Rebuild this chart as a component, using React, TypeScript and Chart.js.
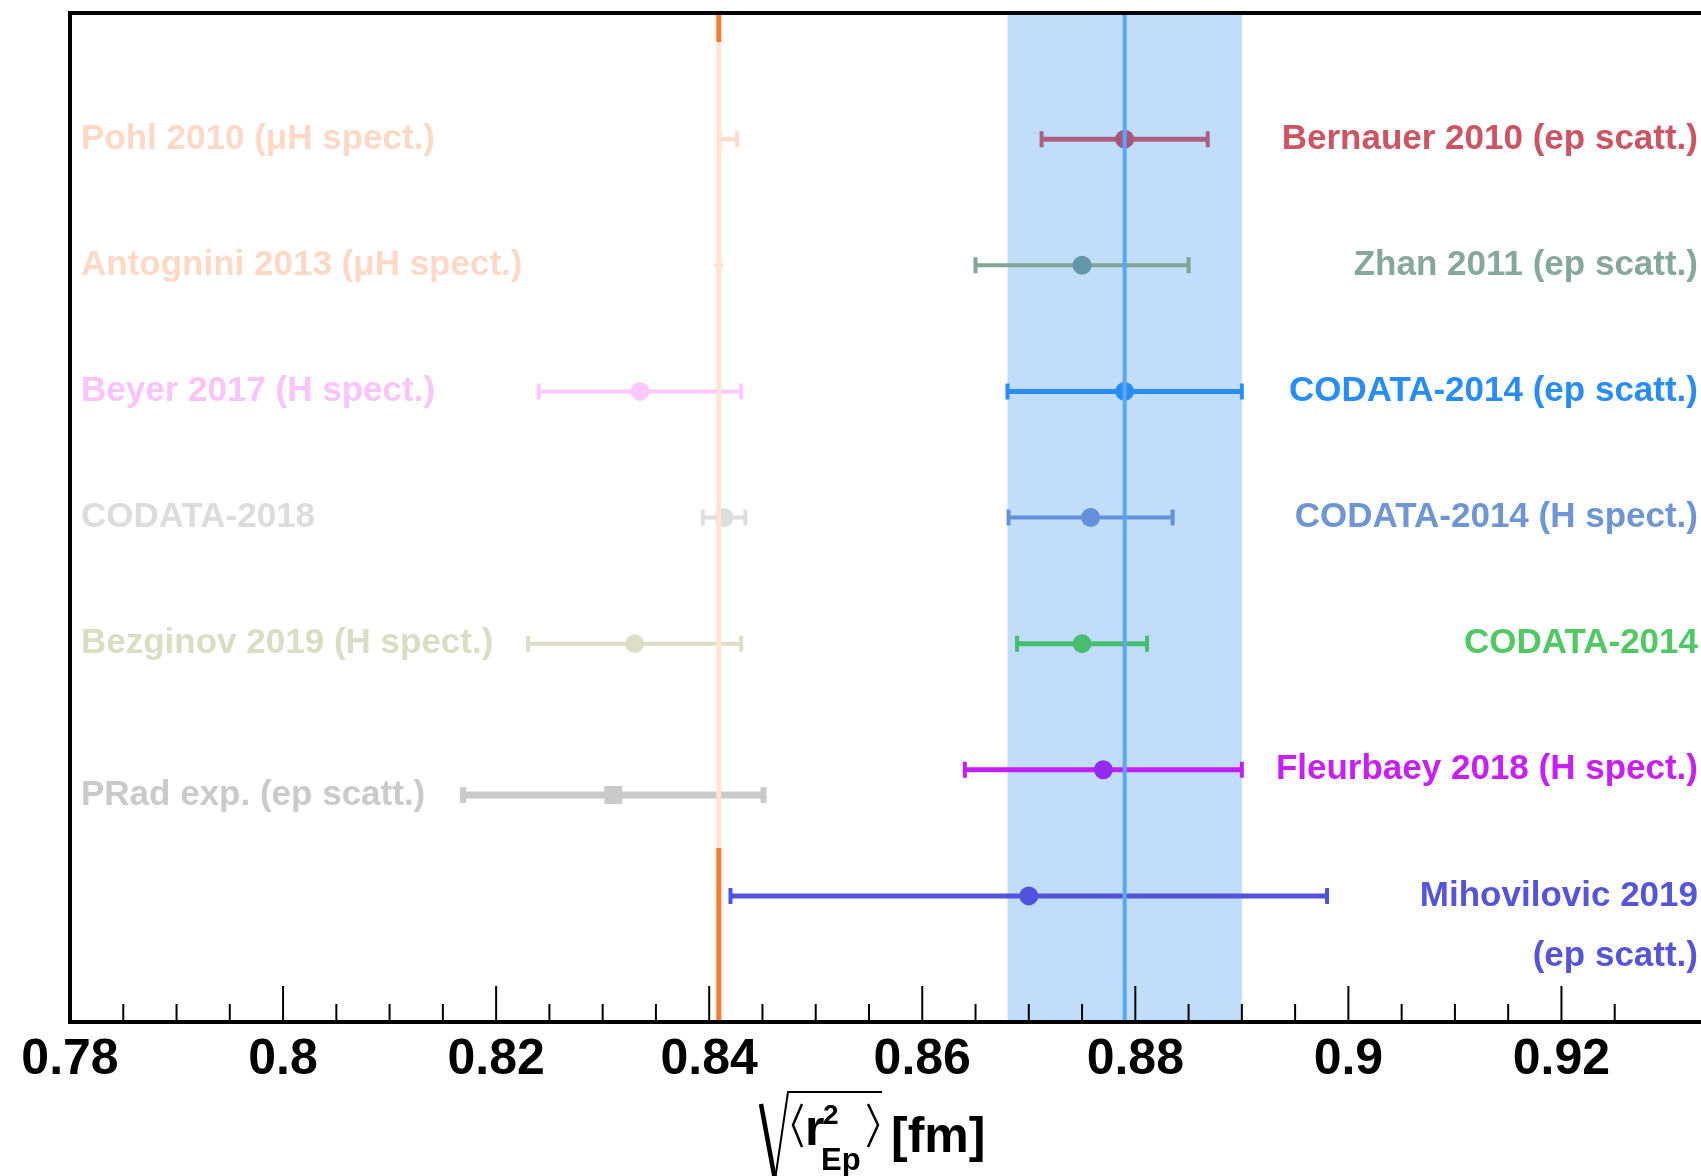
import React, { useEffect, useRef } from "react";
import { Chart, registerables } from "chart.js";

Chart.register(...registerables);

// ---------------- axis ----------------
const X_MIN = 0.78;
const X_MAX = 0.9331;
const Y_MIN = 0;
const Y_MAX = 8;
const MAJOR_STEP = 0.02;
const MINOR_STEP = 0.005;

// ---------------- measurements ----------------
const measNames = [
  "Pohl 2010",
  "Antognini 2013",
  "Beyer 2017",
  "CODATA-2018",
  "Bezginov 2019",
  "PRad",
  "Bernauer 2010",
  "Zhan 2011",
  "CODATA-2014 (ep scatt.)",
  "CODATA-2014 (H spect.)",
  "CODATA-2014",
  "Fleurbaey 2018",
  "Mihovilovic 2019",
];
const measValues = [0.8418, 0.8409, 0.8335, 0.8414, 0.833, 0.831, 0.879, 0.875, 0.879, 0.8758, 0.875, 0.877, 0.87];
const measErrors = [0.0008, 0.0004, 0.0095, 0.002, 0.01, 0.0141, 0.0078, 0.01, 0.011, 0.0077, 0.0061, 0.013, 0.028];
const measRows = [7, 6, 5, 4, 3, 1.8, 7, 6, 5, 4, 3, 2, 1];
const measMarkers = ["circle", "circle", "circle", "circle", "circle", "rect", "circle", "circle", "circle", "circle", "circle", "circle", "circle"];
const measMarkerSizes = [3, 3.5, 9.5, 9.5, 9.5, 12.7, 9.5, 9.5, 9.5, 9.5, 9.5, 9.5, 9.5];
const capHalfHeights = [8, 0, 8, 8, 8, 8, 8, 8, 8, 8, 8, 8, 8];
const barColors = [
  "#FEDCCB", "#FEDCCB", "#FAC8FA", "#DEDEDE", "#DEDEC8", "#CACACA",
  "#AE5F80", "#82A596", "#2B8CF7", "#6591DC", "#46BE6E", "#C21EFA", "#5252DC",
];
const markerColors = [
  "#FEDCCB", "#FEDCCB", "#FAC8FA", "#DEDEDE", "#DEDEC8", "#CACACA",
  "#A8577C", "#6496AA", "#2B8CF7", "#6591DC", "#46BE6E", "#962AF5", "#5252DC",
];
const barWidths = [4, 4, 4, 4, 4, 7, 5, 4, 5, 4, 5, 5, 5];

// ---------------- labels ----------------
const labelTexts = [
  "Pohl 2010 (\u03BCH spect.)",
  "Antognini 2013 (\u03BCH spect.)",
  "Beyer 2017 (H spect.)",
  "CODATA-2018",
  "Bezginov 2019 (H spect.)",
  "PRad exp. (ep scatt.)",
  "Bernauer 2010 (ep scatt.)",
  "Zhan 2011 (ep scatt.)",
  "CODATA-2014 (ep scatt.)",
  "CODATA-2014 (H spect.)",
  "CODATA-2014",
  "Fleurbaey 2018 (H spect.)",
  "Mihovilovic 2019",
  "(ep scatt.)",
];
const labelRows = [7, 6, 5, 4, 3, 1.8, 7, 6, 5, 4, 3, 2, 1, 0.52];
const labelSides = ["left", "left", "left", "left", "left", "left", "right", "right", "right", "right", "right", "right", "right", "right"];
const labelColors = [
  "#FED8C6", "#FED8C6", "#F9C4F9", "#DCDCDC", "#DCDCC4", "#CACACA",
  "#CD5462", "#86A89A", "#288CFA", "#6E96D7", "#50C864", "#C81EFA", "#5555DC", "#5555DC",
];

// ---------------- reference lines ----------------
const bandRange = [0.868, 0.89];
const bandCenter = [0.879];
const muonLineX = [0.8409];
const muonLineBreaks = [8, 7.77, 1.38, 0];
const muonLineColors = ["#F77A2E", "#FFE3D3", "#F77A2E"];

const FONT = "'Liberation Sans', Arial, Helvetica, sans-serif";

function isMajor(v: number) {
  const q = v / MAJOR_STEP;
  return Math.abs(q - Math.round(q)) < 1e-6;
}

const underPlugin = {
  id: "under",
  beforeDatasetsDraw(chart: any) {
    const { ctx, chartArea } = chart;
    const xs = chart.scales.x;
    const ys = chart.scales.y;
    ctx.save();
    ctx.beginPath();
    ctx.rect(chartArea.left, chartArea.top, chartArea.right - chartArea.left, chartArea.bottom - chartArea.top);
    ctx.clip();
    // band
    const bx0 = xs.getPixelForValue(bandRange[0]);
    const bx1 = xs.getPixelForValue(bandRange[1]);
    ctx.fillStyle = "#C0DEFC";
    ctx.fillRect(bx0, chartArea.top, bx1 - bx0, chartArea.bottom - chartArea.top);
    // error bars
    measValues.forEach((v, i) => {
      const y = ys.getPixelForValue(measRows[i]);
      const x0 = xs.getPixelForValue(v - measErrors[i]);
      const x1 = xs.getPixelForValue(v + measErrors[i]);
      ctx.strokeStyle = barColors[i];
      ctx.lineWidth = barWidths[i];
      ctx.lineCap = "butt";
      ctx.beginPath();
      ctx.moveTo(x0, y);
      ctx.lineTo(x1, y);
      ctx.stroke();
      const capH = capHalfHeights[i];
      if (capH > 0) {
        ctx.lineWidth = barWidths[i] >= 6 ? 6 : 4;
        ctx.beginPath();
        ctx.moveTo(x0, y - capH);
        ctx.lineTo(x0, y + capH);
        ctx.moveTo(x1, y - capH);
        ctx.lineTo(x1, y + capH);
        ctx.stroke();
      }
    });
    ctx.restore();
  },
};

function drawAxisTitle(ctx: CanvasRenderingContext2D) {
  ctx.save();
  ctx.strokeStyle = "#000";
  ctx.fillStyle = "#000";
  ctx.lineCap = "butt";
  ctx.lineJoin = "miter";
  // radical sign
  ctx.lineWidth = 4.5;
  ctx.beginPath();
  ctx.moveTo(761, 1104);
  ctx.lineTo(775, 1180);
  ctx.stroke();
  ctx.lineWidth = 2;
  ctx.beginPath();
  ctx.moveTo(775, 1180);
  ctx.lineTo(788, 1092);
  ctx.lineTo(882, 1092);
  ctx.stroke();
  // angle brackets
  ctx.lineWidth = 2.5;
  ctx.beginPath();
  ctx.moveTo(802, 1104);
  ctx.lineTo(793, 1125);
  ctx.lineTo(802, 1147);
  ctx.stroke();
  ctx.beginPath();
  ctx.moveTo(868, 1104);
  ctx.lineTo(878, 1125);
  ctx.lineTo(868, 1147);
  ctx.stroke();
  ctx.textAlign = "left";
  ctx.textBaseline = "alphabetic";
  ctx.font = `bold 50px ${FONT}`;
  ctx.fillText("r", 805, 1145);
  ctx.font = `bold 28px ${FONT}`;
  ctx.fillText("2", 823, 1124);
  ctx.font = `bold 31px ${FONT}`;
  ctx.fillText("Ep", 821, 1170);
  ctx.font = `bold 50px ${FONT}`;
  ctx.fillText("[fm]", 891, 1152);
  ctx.restore();
}

const overPlugin = {
  id: "over",
  afterDatasetsDraw(chart: any) {
    const { ctx, chartArea } = chart;
    const xs = chart.scales.x;
    const ys = chart.scales.y;
    ctx.save();
    // blue centre line
    const cx = xs.getPixelForValue(bandCenter[0]);
    ctx.strokeStyle = "#5AA6F6";
    ctx.lineWidth = 4;
    ctx.beginPath();
    ctx.moveTo(cx, chartArea.top);
    ctx.lineTo(cx, chartArea.bottom);
    ctx.stroke();
    // muonic line
    const mx = xs.getPixelForValue(muonLineX[0]);
    ctx.lineWidth = 5;
    for (let i = 0; i < muonLineColors.length; i++) {
      ctx.strokeStyle = muonLineColors[i];
      ctx.beginPath();
      ctx.moveTo(mx, ys.getPixelForValue(muonLineBreaks[i]));
      ctx.lineTo(mx, ys.getPixelForValue(muonLineBreaks[i + 1]));
      ctx.stroke();
    }
    ctx.restore();
  },
  afterDraw(chart: any) {
    const { ctx, chartArea } = chart;
    const xs = chart.scales.x;
    const ys = chart.scales.y;
    ctx.save();
    // tick marks (inside)
    ctx.strokeStyle = "#000";
    ctx.lineWidth = 2;
    xs.ticks.forEach((t: any) => {
      const q = t.value / MINOR_STEP;
      if (Math.abs(q - Math.round(q)) > 1e-6) return;
      const x = xs.getPixelForValue(t.value);
      const len = isMajor(t.value) ? 36 : 18;
      ctx.beginPath();
      ctx.moveTo(x, chartArea.bottom);
      ctx.lineTo(x, chartArea.bottom - len);
      ctx.stroke();
    });
    // frame
    ctx.lineWidth = 4;
    ctx.lineCap = "square";
    ctx.beginPath();
    ctx.moveTo(chart.width + 5, chartArea.top);
    ctx.lineTo(chartArea.left, chartArea.top);
    ctx.lineTo(chartArea.left, chartArea.bottom);
    ctx.lineTo(chart.width + 5, chartArea.bottom);
    ctx.stroke();
    // labels
    ctx.font = `bold 35px ${FONT}`;
    ctx.textBaseline = "middle";
    labelTexts.forEach((txt, i) => {
      const y = ys.getPixelForValue(labelRows[i]);
      ctx.fillStyle = labelColors[i];
      if (labelSides[i] === "left") {
        ctx.textAlign = "left";
        ctx.fillText(txt, 81, y);
      } else {
        ctx.textAlign = "right";
        ctx.fillText(txt, 1698, y);
      }
    });
    ctx.restore();
    drawAxisTitle(ctx);
  },
};

export default function App() {
  const canvasRef = useRef<HTMLCanvasElement | null>(null);

  useEffect(() => {
    const canvas = canvasRef.current;
    if (!canvas) return;
    const chart = new Chart(canvas, {
      type: "scatter",
      data: {
        datasets: [
          {
            label: "measurements",
            data: measValues.map((v, i) => ({ x: v, y: measRows[i] })),
            pointStyle: measMarkers as any,
            pointRadius: measMarkerSizes,
            pointHoverRadius: measMarkerSizes,
            pointBackgroundColor: markerColors,
            pointBorderWidth: 0,
            pointBorderColor: markerColors,
            showLine: false,
          },
        ],
      },
      plugins: [underPlugin, overPlugin],
      options: {
        animation: false,
        responsive: false,
        devicePixelRatio: 1,
        events: [],
        layout: { autoPadding: false, padding: { left: 70, top: 13, right: 0, bottom: 0 } },
        plugins: {
          legend: { display: false },
          tooltip: { enabled: false },
          title: { display: false },
        },
        scales: {
          x: {
            type: "linear",
            min: X_MIN,
            max: X_MAX,
            position: "bottom",
            grid: { display: false, drawTicks: false },
            border: { display: false },
            afterFit: (s: any) => {
              s.height = 154;
              s.paddingLeft = 0;
              s.paddingRight = 0;
            },
            ticks: {
              stepSize: MINOR_STEP,
              autoSkip: false,
              maxRotation: 0,
              minRotation: 0,
              padding: 8,
              color: "#000",
              font: { family: FONT, size: 50, weight: "bold" },
              callback: (value: any) => {
                const v = Math.round(Number(value) * 10000) / 10000;
                if (!isMajor(v)) return "";
                return String(Math.round(v * 100) / 100);
              },
            },
          },
          y: {
            type: "linear",
            min: Y_MIN,
            max: Y_MAX,
            display: false,
          },
        },
      },
    });
    return () => chart.destroy();
  }, []);

  return (
    <div style={{ position: "fixed", left: 0, top: 0, width: 1701, height: 1176, background: "#fff" }}>
      <canvas ref={canvasRef} width={1701} height={1176} style={{ display: "block" }} />
    </div>
  );
}
